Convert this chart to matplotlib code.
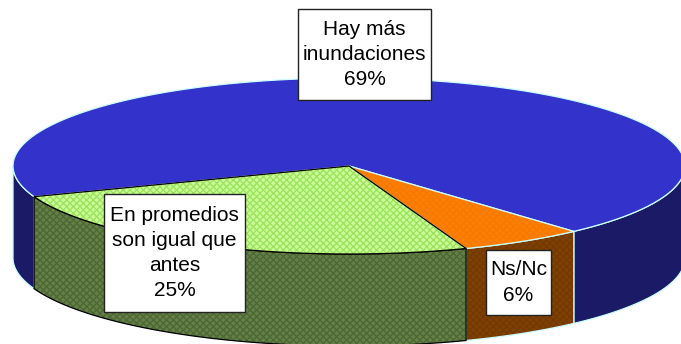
import numpy as np
import matplotlib
matplotlib.use("Agg")
import matplotlib.pyplot as plt
from matplotlib.patches import Polygon, Rectangle

labels = ["Hay más\ninundaciones\n69%", "En promedios\nson igual que\nantes\n25%", "Ns/Nc\n6%"]
values = [69, 25, 6]
top_colors = ["#3333CC", "#CCFF99", "#FF8000"]
top_hatch = [None, "#9BE35F", "#F57A05"]
side_colors = ["#1A1A66", "#667F4D", "#804000"]
side_hatch = [None, "#4C6A30", "#733A00"]
edge_colors = ["#CCFFFF", "#000000", "#CCFFFF"]
draw_order = [0, 2, 1]
label_boxes = [(298, 9, 133, 91), (104, 194, 141, 118), (486, 250, 65, 65)]

start = 312
cx, cy, a, b, depth = 349, 166, 336, 88, 92

plt.rcParams["font.family"] = ["Liberation Sans"]
plt.rcParams["hatch.linewidth"] = 1.0

fig = plt.figure(figsize=(6.81, 3.44), dpi=100)
ax = fig.add_axes([0, 0, 1, 1])
ax.set_xlim(0, 681)
ax.set_ylim(344, 0)
ax.axis("off")


def arc(t1, t2, dy=0):
    t = np.radians(np.linspace(t1, t2, 120))
    return np.column_stack([cx + a * np.cos(t), cy - b * np.sin(t) + dy])


def shape(pts, col, hcol, ecol):
    if hcol:
        ax.add_patch(Polygon(pts, closed=True, fc=col, ec=hcol, lw=0, hatch="xxxxx"))
    else:
        ax.add_patch(Polygon(pts, closed=True, fc=col, ec="none"))
    ax.add_patch(Polygon(pts, closed=True, fill=False, ec=ecol, lw=0.9))


spans = np.array(values) / sum(values) * 360
ends = start + np.cumsum(spans)
begins = ends - spans

for i in draw_order:
    for off in [0, 360]:
        lo = max(begins[i], 180 + off)
        hi = min(ends[i], 360 + off)
        if hi > lo:
            wall = np.vstack([arc(lo, hi), arc(hi, lo, depth)])
            shape(wall, side_colors[i], side_hatch[i], edge_colors[i])
    top = np.vstack([[[cx, cy]], arc(begins[i], ends[i])])
    shape(top, top_colors[i], top_hatch[i], edge_colors[i])

for lab, box in zip(labels, label_boxes):
    x, y, w, h = box
    ax.add_patch(Rectangle((x, y), w, h, fc="white", ec="#222222", lw=1, zorder=5))
    ax.text(x + w / 2, y + h / 2, lab, ha="center", va="center", fontsize=15,
            linespacing=1.42, color="black", zorder=6)

fig.savefig("out.png", dpi=100)
